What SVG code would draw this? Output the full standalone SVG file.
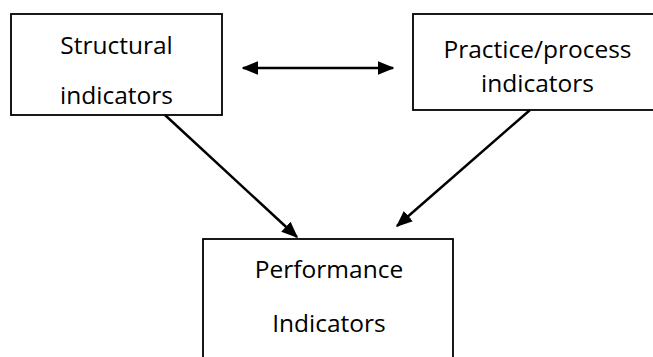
<svg xmlns="http://www.w3.org/2000/svg" width="653" height="357" viewBox="0 0 653 357">
  <style>
    .box { fill: #ffffff; stroke: #000000; stroke-width: 1.8; }
    .label { font-family: "Open Sans", "Noto Sans", "Liberation Sans", sans-serif; font-size: 24.5px; fill: #000000; text-anchor: middle; }
    .link { stroke: #000000; stroke-width: 2.5; fill: none; }
  </style>
  <defs>
    <marker id="arrow" viewBox="0 0 12 10" refX="11" refY="5" markerWidth="6.6" markerHeight="5.5" markerUnits="strokeWidth" orient="auto-start-reverse">
      <path d="M0,0 L12,5 L0,10 z" fill="#000000"/>
    </marker>
  </defs>
  <rect width="653" height="357" fill="#ffffff"/>

  <g id="structural">
    <rect class="box" x="11" y="14" width="211" height="101"/>
    <text class="label" x="116.5" y="53.5">Structural</text>
    <text class="label" x="116.5" y="103.5">indicators</text>
  </g>

  <g id="practice">
    <rect class="box" x="413" y="14" width="260" height="96"/>
    <text class="label" x="537.5" y="58">Practice/process</text>
    <text class="label" x="537.5" y="92">indicators</text>
  </g>

  <g id="performance">
    <rect class="box" x="203" y="239" width="250" height="140"/>
    <text class="label" x="329" y="278">Performance</text>
    <text class="label" x="329" y="332">Indicators</text>
  </g>

  <g id="connectors">
    <line class="link" x1="243" y1="68" x2="393" y2="68" marker-start="url(#arrow)" marker-end="url(#arrow)"/>
    <line class="link" x1="165" y1="115" x2="297" y2="237" marker-end="url(#arrow)"/>
    <line class="link" x1="530" y1="110" x2="397" y2="226" marker-end="url(#arrow)"/>
  </g>
</svg>
